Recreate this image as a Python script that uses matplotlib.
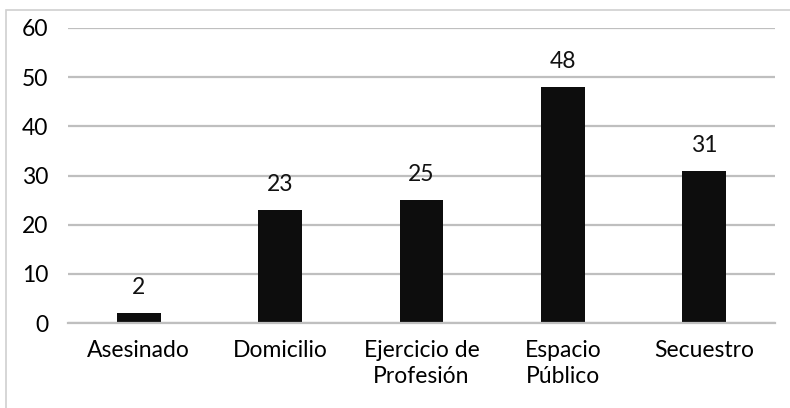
import matplotlib.pyplot as plt
from matplotlib.patches import Rectangle

categorias = ["Asesinado", "Domicilio", "Ejercicio de\nProfesión", "Espacio\nPúblico", "Secuestro"]
valores = [2, 23, 25, 48, 31]
marcas_y = [0, 10, 20, 30, 40, 50, 60]

plt.rcParams['font.family'] = ['Lato', 'DejaVu Sans']

fig = plt.figure(figsize=(7.9, 4.08), dpi=100)
ax = fig.add_axes([68 / 790, 1 - 323 / 408, 707 / 790, 295 / 408])

# borde del gráfico (solo izquierda y arriba visibles)
fig.patches.append(Rectangle((6 / 790, -0.1), 1.2, 1 - 10 / 408 + 0.1,
                             transform=fig.transFigure, fill=False,
                             edgecolor='#d0d0d0', linewidth=1.2))

x = range(len(categorias))
ax.bar(x, valores, width=0.31, color='#0d0d0d', zorder=3)
for xi, v in zip(x, valores):
    ax.text(xi, v + 3.0, str(v), ha='center', va='bottom', fontsize=16.5, color='#111111')

ax.set_xlim(-0.5, len(categorias) - 0.5)
ax.set_ylim(0, 60)
ax.set_yticks(marcas_y)
ax.set_xticks(list(x))
ax.set_xticklabels(categorias, fontsize=16.5, linespacing=1.3)
ax.tick_params(axis='y', labelsize=16.5, length=0, pad=14)
ax.tick_params(axis='x', length=0, pad=12)
ax.yaxis.grid(True, color='#bfbfbf', linewidth=1.6, zorder=0)
for lado in ['top', 'right', 'left']:
    ax.spines[lado].set_visible(False)
ax.spines['bottom'].set_color('#bfbfbf')
ax.spines['bottom'].set_linewidth(1.6)
ax.spines['bottom'].set_zorder(4)

fig.savefig("out.png", dpi=100)
